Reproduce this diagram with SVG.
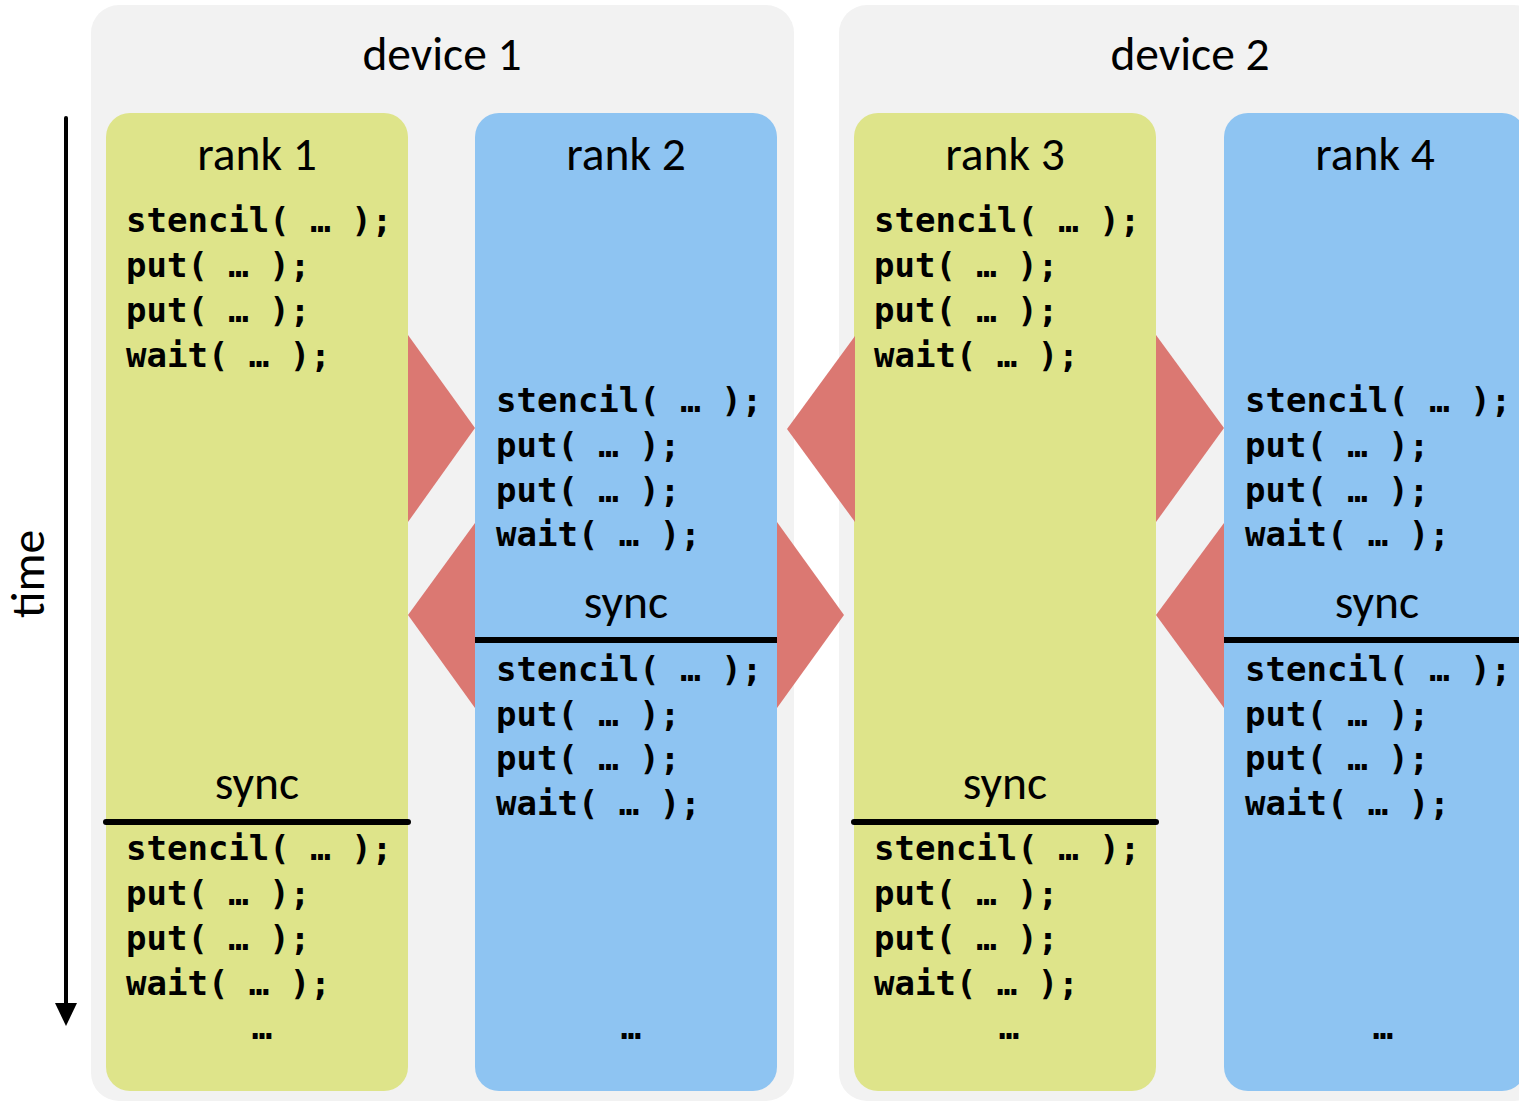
<svg xmlns="http://www.w3.org/2000/svg" width="1519" height="1102" viewBox="0 0 1519 1102">
  <style>
    .device { fill: #f2f2f2; }
    .rank-y { fill: #dee48a; }
    .rank-b { fill: #8ec4f2; }
    .msg { fill: #db7872; }
    .title { font-family: Carlito, Calibri, Lato, "Open Sans", sans-serif; font-size: 47.5px; fill: #000; text-anchor: middle; }
    .code { font-family: Consolas, "DejaVu Sans Mono", monospace; font-weight: bold; font-size: 34px; fill: #000; }
    .dots { text-anchor: middle; }
    .sync-line { stroke: #000; stroke-width: 6; stroke-linecap: round; }
  </style>

  <!-- device backgrounds -->
  <g id="device1">
    <rect class="device" x="91" y="5" width="703" height="1096" rx="28"/>
    <text class="title" x="442" y="70">device 1</text>
  </g>
  <g id="device2">
    <rect class="device" x="839" y="5" width="703" height="1096" rx="28"/>
    <text class="title" x="1190" y="70">device 2</text>
  </g>

  <!-- time axis -->
  <g id="time-axis">
    <line x1="66" y1="118" x2="66" y2="1006" stroke="#000" stroke-width="4" stroke-linecap="round"/>
    <polygon points="55,1003 77,1003 66,1026" fill="#000"/>
    <text class="title" transform="translate(44,574) rotate(-90)">time</text>
  </g>

  <!-- rank 1 -->
  <g id="rank1">
    <rect class="rank-y" x="106" y="113" width="302" height="978" rx="24"/>
    <text class="title" x="257" y="170">rank 1</text>
    <text class="code" x="126" y="232">stencil( … );</text>
    <text class="code" x="126" y="277">put( … );</text>
    <text class="code" x="126" y="322">put( … );</text>
    <text class="code" x="126" y="367">wait( … );</text>
    <text class="title" x="257" y="799">sync</text>
    <line class="sync-line" x1="106" y1="822" x2="408" y2="822"/>
    <text class="code" x="126" y="860">stencil( … );</text>
    <text class="code" x="126" y="905">put( … );</text>
    <text class="code" x="126" y="950">put( … );</text>
    <text class="code" x="126" y="995">wait( … );</text>
    <text class="code dots" x="262" y="1039">…</text>
  </g>

  <!-- rank 2 -->
  <g id="rank2">
    <rect class="rank-b" x="475" y="113" width="302" height="978" rx="24"/>
    <text class="title" x="626" y="170">rank 2</text>
    <text class="code" x="496" y="412">stencil( … );</text>
    <text class="code" x="496" y="457">put( … );</text>
    <text class="code" x="496" y="502">put( … );</text>
    <text class="code" x="496" y="546">wait( … );</text>
    <text class="title" x="626" y="618">sync</text>
    <line class="sync-line" x1="475" y1="640" x2="777" y2="640"/>
    <text class="code" x="496" y="681">stencil( … );</text>
    <text class="code" x="496" y="726">put( … );</text>
    <text class="code" x="496" y="770">put( … );</text>
    <text class="code" x="496" y="815">wait( … );</text>
    <text class="code dots" x="631" y="1039">…</text>
  </g>

  <!-- rank 3 -->
  <g id="rank3">
    <rect class="rank-y" x="854" y="113" width="302" height="978" rx="24"/>
    <text class="title" x="1005" y="170">rank 3</text>
    <text class="code" x="874" y="232">stencil( … );</text>
    <text class="code" x="874" y="277">put( … );</text>
    <text class="code" x="874" y="322">put( … );</text>
    <text class="code" x="874" y="367">wait( … );</text>
    <text class="title" x="1005" y="799">sync</text>
    <line class="sync-line" x1="854" y1="822" x2="1156" y2="822"/>
    <text class="code" x="874" y="860">stencil( … );</text>
    <text class="code" x="874" y="905">put( … );</text>
    <text class="code" x="874" y="950">put( … );</text>
    <text class="code" x="874" y="995">wait( … );</text>
    <text class="code dots" x="1009" y="1039">…</text>
  </g>

  <!-- rank 4 -->
  <g id="rank4">
    <rect class="rank-b" x="1224" y="113" width="302" height="978" rx="24"/>
    <text class="title" x="1375" y="170">rank 4</text>
    <text class="code" x="1245" y="412">stencil( … );</text>
    <text class="code" x="1245" y="457">put( … );</text>
    <text class="code" x="1245" y="502">put( … );</text>
    <text class="code" x="1245" y="546">wait( … );</text>
    <text class="title" x="1377" y="618">sync</text>
    <line class="sync-line" x1="1224" y1="640" x2="1530" y2="640"/>
    <text class="code" x="1245" y="681">stencil( … );</text>
    <text class="code" x="1245" y="726">put( … );</text>
    <text class="code" x="1245" y="770">put( … );</text>
    <text class="code" x="1245" y="815">wait( … );</text>
    <text class="code dots" x="1383" y="1039">…</text>
  </g>

  <!-- halo exchange messages between neighbouring ranks -->
  <g id="connectors">
    <polygon class="msg" points="408,335 475,428 408,522"/>
    <polygon class="msg" points="475,523 408,615 475,708"/>
    <polygon class="msg" points="855,336 787,429 855,522"/>
    <polygon class="msg" points="777,522 844,615 777,708"/>
    <polygon class="msg" points="1156,335 1224,428 1156,522"/>
    <polygon class="msg" points="1224,523 1156,615 1224,708"/>
  </g>
</svg>
